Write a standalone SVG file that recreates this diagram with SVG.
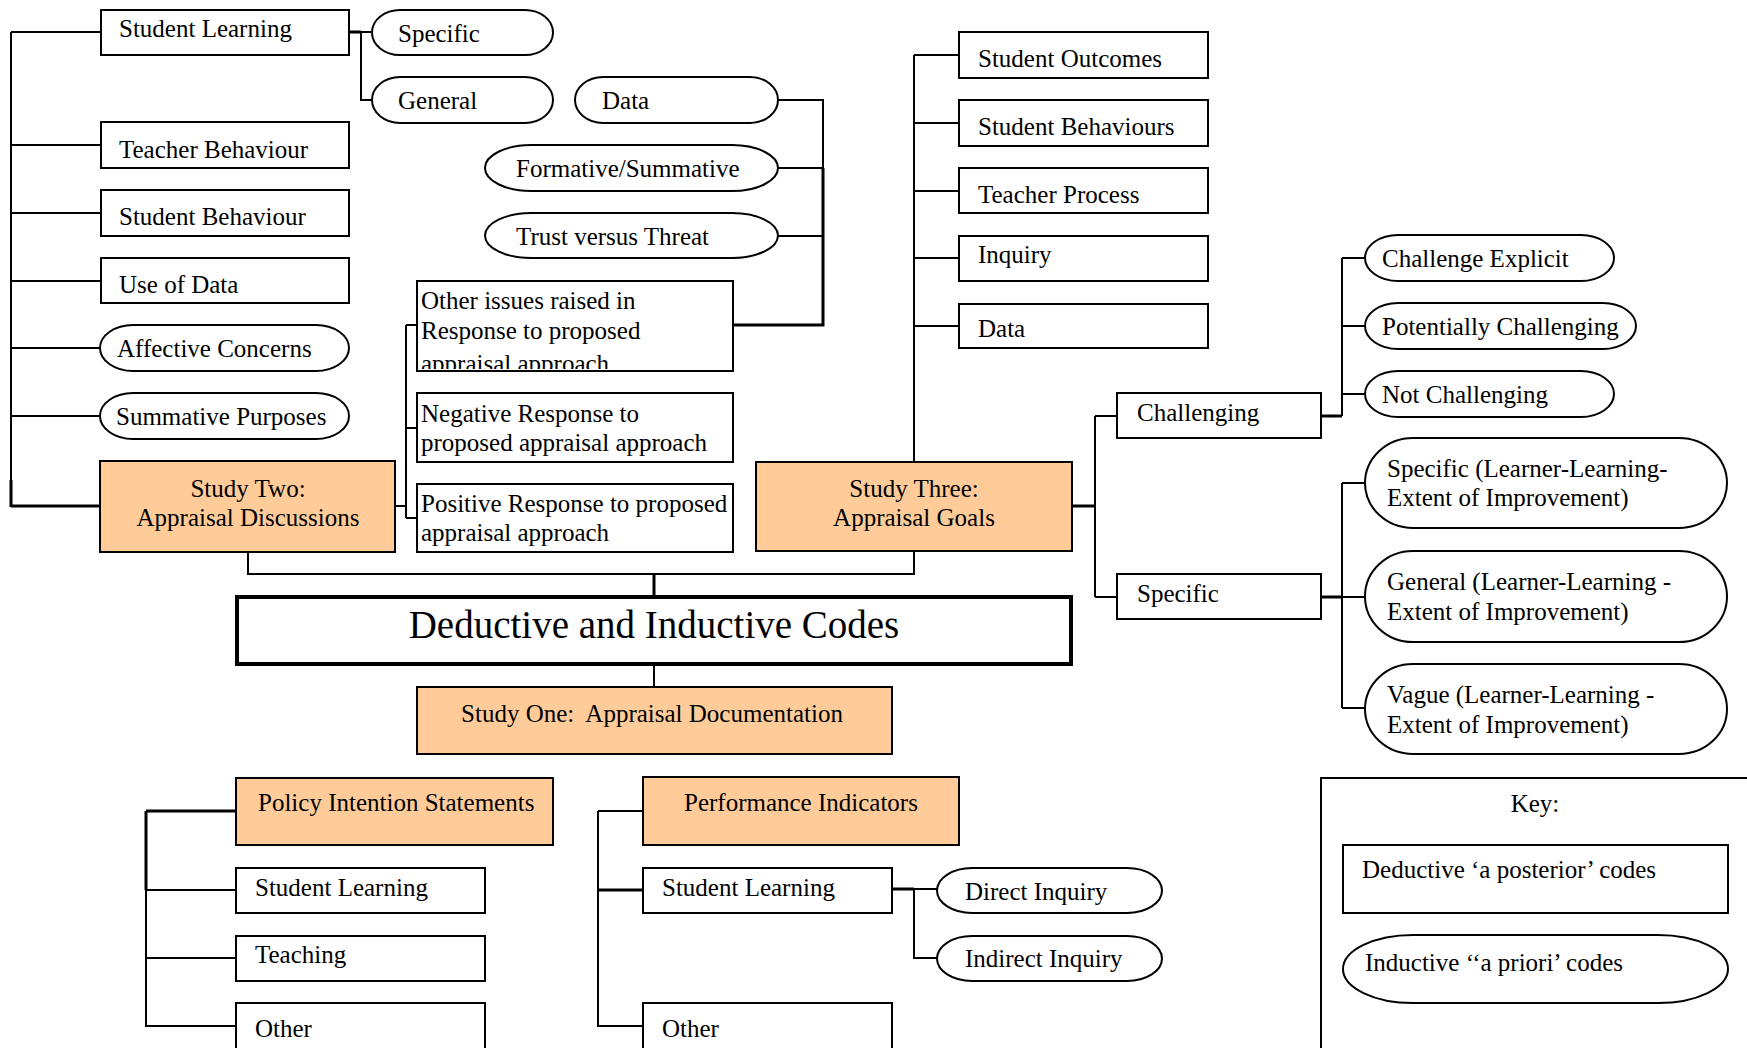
<svg xmlns="http://www.w3.org/2000/svg" width="1747" height="1048" viewBox="0 0 1747 1048">
  <defs>
    <style>
      .box { fill: #ffffff; stroke: #000000; stroke-width: 2; }
      .study { fill: #ffcc99; stroke: #000000; stroke-width: 2; }
      .pill { fill: #ffffff; stroke: #000000; stroke-width: 2; }
      .t { font-family: "Liberation Serif", "Times New Roman", serif; font-size: 25px; fill: #000000; }
      .c { text-anchor: middle; }
      .title { font-size: 39px; }
      .ln { fill: none; stroke: #000000; stroke-width: 2; }
      .bold { stroke-width: 3; }
    </style>
    <clipPath id="clipOther">
      <rect x="418" y="282" width="314" height="87"/>
    </clipPath>
  </defs>
  <rect width="1747" height="1048" fill="#ffffff"/>

  <!-- connectors -->
  <g id="connectors">
    <!-- Study Two branch (left column) -->
    <path class="ln" d="M11 32 V507 M11 32 H101 M11 145 H101 M11 213 H101 M11 281 H101 M11 348 H100 M11 416 H100"/>
    <path class="ln bold" d="M11 506 H100 M11 480 V507"/>
    <path class="ln bold" d="M349 32 H361"/>
    <path class="ln" d="M361 32 H372 M361 32 V100 H372"/>
    <path class="ln" d="M395 506 H406 M406 325 V518 M406 325 H417 M406 428 H417 M406 518 H417"/>
    <!-- Data / Formative / Trust into "Other issues" -->
    <path class="ln" d="M778 100 H823 V168 M778 168 H823 M778 236 H823"/>
    <path class="ln bold" d="M823 168 V325 H733"/>
    <!-- Study Two and Study Three joined to the central code box -->
    <path class="ln" d="M248 552 V574 H914 V551"/>
    <path class="ln bold" d="M654 574 V597"/>
    <path class="ln" d="M654 665 V687"/>
    <!-- Study Three upward branch -->
    <path class="ln" d="M914 55 V462 M914 55 H959 M914 123 H959 M914 191 H959 M914 258 H959 M914 326 H959"/>
    <!-- Study Three right branch -->
    <path class="ln bold" d="M1072 506 H1095"/>
    <path class="ln" d="M1095 416 V597 M1095 416 H1117 M1095 597 H1117"/>
    <path class="ln bold" d="M1321 416 H1342"/>
    <path class="ln" d="M1342 258 V416 M1342 258 H1365 M1342 326 H1365 M1342 394 H1365"/>
    <path class="ln bold" d="M1321 597 H1342"/>
    <path class="ln" d="M1342 483 V708 M1342 483 H1365 M1342 597 H1365 M1342 708 H1365"/>
    <!-- Policy Intention Statements branch -->
    <path class="ln bold" d="M146 811 H236 M146 811 V890"/>
    <path class="ln" d="M146 890 V1026 H236 M146 890 H236 M146 958 H236"/>
    <!-- Performance Indicators branch -->
    <path class="ln" d="M598 811 H643 M598 811 V1026 H643"/>
    <path class="ln bold" d="M598 890 H643 M892 889 H914"/>
    <path class="ln" d="M914 889 H937 M914 889 V958 H937"/>
  </g>

  <!-- Study Two: Appraisal Discussions -->
  <g id="study-two">
    <rect class="study" x="100" y="461" width="295" height="91"/>
    <text class="t c" x="248" y="497">Study Two:</text>
    <text class="t c" x="248" y="526">Appraisal Discussions</text>
  </g>
  <g id="s2-student-learning">
    <rect class="box" x="101" y="10" width="248" height="45"/>
    <text class="t" x="119" y="37">Student Learning</text>
  </g>
  <g id="s2-specific">
    <rect class="pill" x="372" y="10" width="181" height="45" rx="28" ry="22.5"/>
    <text class="t" x="398" y="42">Specific</text>
  </g>
  <g id="s2-general">
    <rect class="pill" x="372" y="77" width="181" height="46" rx="28" ry="23"/>
    <text class="t" x="398" y="109">General</text>
  </g>
  <g id="s2-teacher-behaviour">
    <rect class="box" x="101" y="122" width="248" height="46"/>
    <text class="t" x="119" y="158">Teacher Behaviour</text>
  </g>
  <g id="s2-student-behaviour">
    <rect class="box" x="101" y="190" width="248" height="46"/>
    <text class="t" x="119" y="225">Student Behaviour</text>
  </g>
  <g id="s2-use-of-data">
    <rect class="box" x="101" y="258" width="248" height="45"/>
    <text class="t" x="119" y="293">Use of Data</text>
  </g>
  <g id="s2-affective">
    <rect class="pill" x="100" y="325" width="249" height="46" rx="33" ry="23"/>
    <text class="t" x="117" y="357">Affective Concerns</text>
  </g>
  <g id="s2-summative">
    <rect class="pill" x="100" y="393" width="249" height="46" rx="33" ry="23"/>
    <text class="t" x="116" y="425">Summative Purposes</text>
  </g>
  <g id="s2-data">
    <rect class="pill" x="575" y="77" width="203" height="46" rx="28" ry="23"/>
    <text class="t" x="602" y="109">Data</text>
  </g>
  <g id="s2-formative">
    <rect class="pill" x="485" y="145" width="293" height="46" rx="46" ry="23"/>
    <text class="t" x="516" y="177">Formative/Summative</text>
  </g>
  <g id="s2-trust">
    <rect class="pill" x="485" y="213" width="293" height="45" rx="46" ry="22.5"/>
    <text class="t" x="516" y="245">Trust versus Threat</text>
  </g>
  <g id="s2-other-issues">
    <rect class="box" x="417" y="281" width="316" height="90"/>
    <g clip-path="url(#clipOther)">
      <text class="t" x="421" y="309">Other issues raised in</text>
      <text class="t" x="421" y="339">Response to proposed</text>
      <text class="t" x="421" y="372">appraisal approach</text>
    </g>
    <rect x="417" y="281" width="316" height="90" fill="none" stroke="#000000" stroke-width="2"/>
  </g>
  <g id="s2-negative">
    <rect class="box" x="417" y="393" width="316" height="69"/>
    <text class="t" x="421" y="422">Negative Response to</text>
    <text class="t" x="421" y="451">proposed appraisal approach</text>
  </g>
  <g id="s2-positive">
    <rect class="box" x="417" y="484" width="316" height="68"/>
    <text class="t" x="421" y="512">Positive Response to proposed</text>
    <text class="t" x="421" y="541">appraisal approach</text>
  </g>

  <!-- Study Three: Appraisal Goals -->
  <g id="study-three">
    <rect class="study" x="756" y="462" width="316" height="89"/>
    <text class="t c" x="914" y="497">Study Three:</text>
    <text class="t c" x="914" y="526">Appraisal Goals</text>
  </g>
  <g id="s3-student-outcomes">
    <rect class="box" x="959" y="32" width="249" height="46"/>
    <text class="t" x="978" y="67">Student Outcomes</text>
  </g>
  <g id="s3-student-behaviours">
    <rect class="box" x="959" y="100" width="249" height="46"/>
    <text class="t" x="978" y="135">Student Behaviours</text>
  </g>
  <g id="s3-teacher-process">
    <rect class="box" x="959" y="168" width="249" height="45"/>
    <text class="t" x="978" y="203">Teacher Process</text>
  </g>
  <g id="s3-inquiry">
    <rect class="box" x="959" y="236" width="249" height="45"/>
    <text class="t" x="978" y="263">Inquiry</text>
  </g>
  <g id="s3-data">
    <rect class="box" x="959" y="304" width="249" height="44"/>
    <text class="t" x="978" y="337">Data</text>
  </g>
  <g id="s3-challenging">
    <rect class="box" x="1117" y="393" width="204" height="45"/>
    <text class="t" x="1137" y="421">Challenging</text>
  </g>
  <g id="s3-challenge-explicit">
    <rect class="pill" x="1365" y="235" width="249" height="46" rx="33" ry="23"/>
    <text class="t" x="1382" y="267">Challenge Explicit</text>
  </g>
  <g id="s3-potentially">
    <rect class="pill" x="1365" y="303" width="271" height="46" rx="33" ry="23"/>
    <text class="t" x="1382" y="335">Potentially Challenging</text>
  </g>
  <g id="s3-not-challenging">
    <rect class="pill" x="1365" y="371" width="249" height="46" rx="33" ry="23"/>
    <text class="t" x="1382" y="403">Not Challenging</text>
  </g>
  <g id="s3-specific">
    <rect class="box" x="1117" y="574" width="204" height="45"/>
    <text class="t" x="1137" y="602">Specific</text>
  </g>
  <g id="s3-specific-ll">
    <rect class="pill" x="1365" y="438" width="362" height="90" rx="48" ry="45"/>
    <text class="t" x="1387" y="477">Specific (Learner-Learning-</text>
    <text class="t" x="1387" y="506">Extent of Improvement)</text>
  </g>
  <g id="s3-general-ll">
    <rect class="pill" x="1365" y="551" width="362" height="91" rx="48" ry="45.5"/>
    <text class="t" x="1387" y="590">General (Learner-Learning -</text>
    <text class="t" x="1387" y="620">Extent of Improvement)</text>
  </g>
  <g id="s3-vague-ll">
    <rect class="pill" x="1365" y="664" width="362" height="90" rx="48" ry="45"/>
    <text class="t" x="1387" y="703">Vague (Learner-Learning -</text>
    <text class="t" x="1387" y="733">Extent of Improvement)</text>
  </g>

  <!-- central code box -->
  <g id="codes">
    <rect x="237" y="597" width="834" height="67" fill="#ffffff" stroke="#000000" stroke-width="4"/>
    <text class="t c title" x="654" y="638">Deductive and Inductive Codes</text>
  </g>

  <!-- Study One: Appraisal Documentation -->
  <g id="study-one">
    <rect class="study" x="417" y="687" width="475" height="67"/>
    <text class="t c" x="652" y="722" xml:space="preserve">Study One:  Appraisal Documentation</text>
  </g>
  <g id="s1-policy">
    <rect class="study" x="236" y="778" width="317" height="67"/>
    <text class="t" x="258" y="811">Policy Intention Statements</text>
  </g>
  <g id="s1-policy-learning">
    <rect class="box" x="236" y="868" width="249" height="45"/>
    <text class="t" x="255" y="896">Student Learning</text>
  </g>
  <g id="s1-policy-teaching">
    <rect class="box" x="236" y="936" width="249" height="45"/>
    <text class="t" x="255" y="963">Teaching</text>
  </g>
  <g id="s1-policy-other">
    <rect class="box" x="236" y="1003" width="249" height="50"/>
    <text class="t" x="255" y="1037">Other</text>
  </g>
  <g id="s1-performance">
    <rect class="study" x="643" y="777" width="316" height="68"/>
    <text class="t" x="684" y="811">Performance Indicators</text>
  </g>
  <g id="s1-perf-learning">
    <rect class="box" x="643" y="868" width="249" height="45"/>
    <text class="t" x="662" y="896">Student Learning</text>
  </g>
  <g id="s1-direct">
    <rect class="pill" x="937" y="868" width="225" height="45" rx="35" ry="22.5"/>
    <text class="t" x="965" y="900">Direct Inquiry</text>
  </g>
  <g id="s1-indirect">
    <rect class="pill" x="937" y="936" width="225" height="45" rx="35" ry="22.5"/>
    <text class="t" x="965" y="967">Indirect Inquiry</text>
  </g>
  <g id="s1-perf-other">
    <rect class="box" x="643" y="1003" width="249" height="50"/>
    <text class="t" x="662" y="1037">Other</text>
  </g>

  <!-- key -->
  <g id="key">
    <rect x="1321" y="778" width="460" height="300" fill="#ffffff" stroke="#000000" stroke-width="2"/>
    <text class="t c" x="1535" y="812">Key:</text>
    <rect class="box" x="1343" y="845" width="385" height="68"/>
    <text class="t" x="1362" y="878">Deductive ‘a posterior’ codes</text>
    <rect class="pill" x="1343" y="935" width="385" height="68" rx="70" ry="34"/>
    <text class="t" x="1365" y="971">Inductive ‘‘a priori’ codes</text>
  </g>
</svg>
